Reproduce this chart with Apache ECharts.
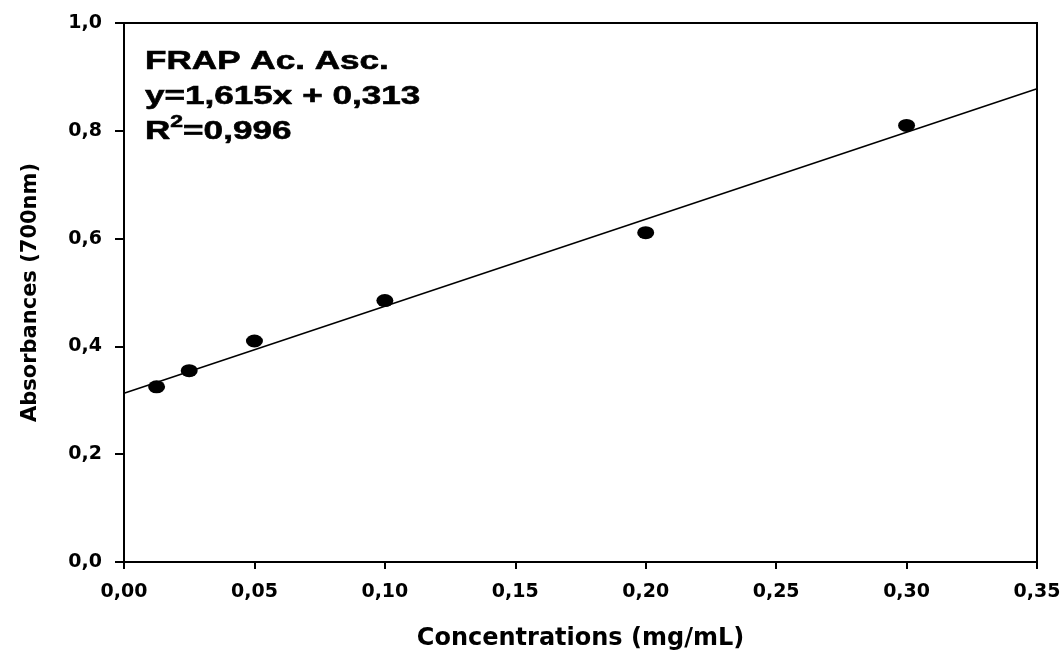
<!DOCTYPE html>
<html>
<head>
<meta charset="utf-8">
<script src="https://cdn.jsdelivr.net/npm/echarts@6/dist/echarts.min.js"></script>
<style>
  html, body { margin: 0; padding: 0; background: #fff; }
  #frap-chart { width: 1064px; height: 650px; }
</style>
</head>
<body>
<div id="frap-chart"></div>
<script>
// valeurs
const concentrations = [0.0125, 0.025, 0.05, 0.1, 0.2, 0.3];
const absorbances = [0.325, 0.355, 0.41, 0.485, 0.611, 0.81];
// droite de régression (extrémités)
const fitX = [0, 0.35];
const fitY = [0.313, 0.878];
const annotationLines = ['FRAP Ac. Asc.', 'y=1,615x + 0,313'];
const r2Text = '=0,996';

const textFont = '"Liberation Sans", Arial, sans-serif';
const axisFont = '"DejaVu Sans", sans-serif';
const comma = (v, d) => v.toFixed(d).replace('.', ',');

const chart = echarts.init(document.getElementById('frap-chart'));

chart.setOption({
  animation: false,
  grid: {
    left: 124, right: 27, top: 23, bottom: 88,
    outerBoundsMode: 'none',
    containLabel: false,
    show: true, borderColor: '#000', borderWidth: 2, backgroundColor: 'transparent',
  },
  xAxis: {
    type: 'value',
    min: 0,
    max: 0.35,
    interval: 0.05,
    name: 'Concentrations (mg/mL)',
    nameLocation: 'middle',
    nameGap: 65,
    nameTextStyle: { color: '#000', fontFamily: axisFont, fontWeight: 'bold', fontSize: 24 },
    axisLine: { show: true, lineStyle: { color: '#000', width: 2 } },
    axisTick: { show: true, length: 7, lineStyle: { color: '#000', width: 2 } },
    axisLabel: {
      color: '#000', fontFamily: axisFont, fontWeight: 'bold', fontSize: 19, margin: 21,
      formatter: (v) => comma(v, 2),
    },
    splitLine: { show: false },
  },
  yAxis: {
    type: 'value',
    min: 0,
    max: 1,
    interval: 0.2,
    name: 'Absorbances (700nm)',
    nameLocation: 'middle',
    nameGap: 83,
    nameTextStyle: { color: '#000', fontFamily: axisFont, fontWeight: 'bold', fontSize: 21 },
    axisLine: { show: true, lineStyle: { color: '#000', width: 2 } },
    axisTick: { show: true, length: 9, lineStyle: { color: '#000', width: 2 } },
    axisLabel: {
      color: '#000', fontFamily: axisFont, fontWeight: 'bold', fontSize: 19, margin: 22,
      formatter: (v) => comma(v, 1),
    },
    splitLine: { show: false },
  },
  graphic: [
    {
      type: 'text',
      x: 145,
      y: 44,
      scaleX: 1.35,
      style: {
        text: annotationLines.join('\n') + '\n{r|R}{sup|2}{r|' + r2Text + '}',
        fontFamily: textFont,
        fontWeight: 'bold',
        fontSize: 26,
        lineHeight: 35,
        fill: '#000',
        stroke: '#000',
        lineWidth: 0.6,
        rich: {
          r: { fontFamily: textFont, fontWeight: 'bold', fontSize: 26, fill: '#000', stroke: '#000', lineWidth: 0.6, lineHeight: 35 },
          sup: { fontFamily: textFont, fontWeight: 'bold', fontSize: 17, fill: '#000', verticalAlign: 'top', padding: [0, 0, 10, 0] },
        },
      },
    },
  ],
  series: [
    {
      type: 'line',
      data: fitX.map((x, i) => [x, fitY[i]]),
      showSymbol: false,
      symbol: 'none',
      lineStyle: { color: '#000', width: 1.6 },
      silent: true,
      z: 2,
    },
    {
      type: 'scatter',
      data: concentrations.map((x, i) => [x, absorbances[i]]),
      symbol: 'circle',
      symbolSize: [17, 13],
      itemStyle: { color: '#000', opacity: 1 },
      z: 3,
    },
  ],
});
</script>
</body>
</html>
